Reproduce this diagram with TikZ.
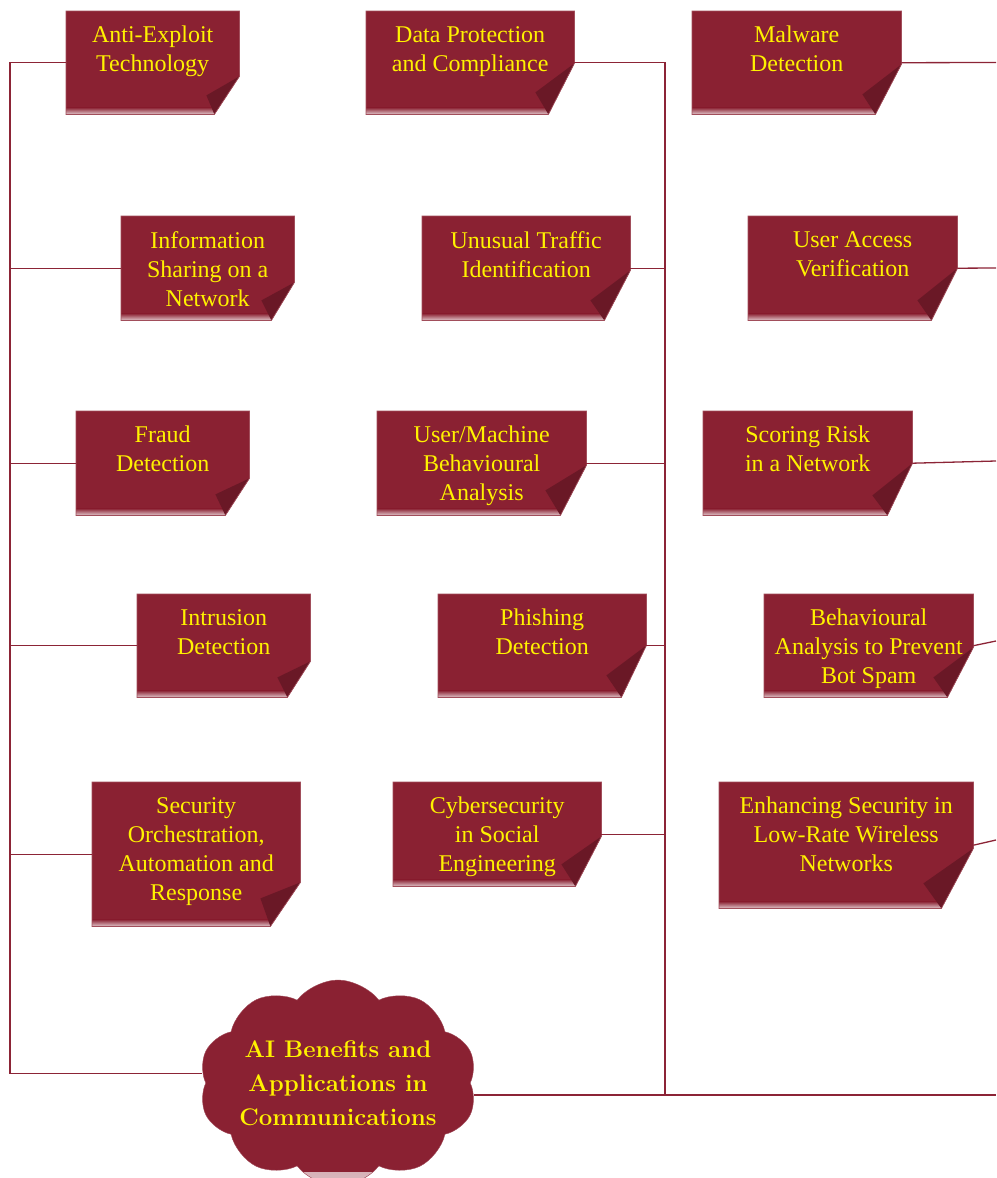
\documentclass[tikz,border=0pt]{standalone}
\usepackage{fontspec}
\setmainfont{Liberation Serif}
\newfontfamily\cloudfont{Latin Modern Roman}
\usetikzlibrary{positioning,calc,shapes.symbols,backgrounds}
\definecolor{notered}{RGB}{138,33,50}
\definecolor{foldred}{RGB}{106,24,38}
\definecolor{linkred}{RGB}{140,36,54}

\begin{document}
\begin{tikzpicture}[x=1pt,y=-1pt]
  \tikzset{
    note/.style 2 args={inner sep=0pt, text=yellow, font=\fontsize{24}{29}\selectfont,
      execute at begin node={\begin{minipage}[c][#2][t]{#1}\centering\vspace*{15pt}},
      execute at end node={\end{minipage}}},
    link/.style={draw=linkred, line width=1.3pt},
    idea/.style={cloud, cloud puffs=10, cloud puff arc=105, cloud ignores aspect,
      fill=notered, draw=notered!80!white, text=yellow, align=center,
      minimum width=278pt, minimum height=206pt, inner sep=-30pt,
      font=\cloudfont\bfseries\fontsize{24}{34}\selectfont,
      path picture={\shade[top color=notered, bottom color=notered!30!white]
        ([yshift=14pt]path picture bounding box.south west) rectangle (path picture bounding box.south east);}}
  }
  \useasboundingbox (0,0) rectangle (996,1178);
  \clip (0,0) rectangle (996,1178);
  % left column
  \node[note={173pt}{103pt}, anchor=north west] (ae) at (66,11) {Anti-Exploit\\Technology};
  \node[note={173pt}{104pt}, anchor=north west] (is) at (121,216) {Information\\Sharing on a\\Network};
  \node[note={173pt}{104pt}, anchor=north west] (fd) at (76,411) {Fraud\\Detection};
  \node[note={173pt}{103pt}, anchor=north west] (id) at (137,594) {Intrusion\\Detection};
  \node[note={208pt}{144pt}, anchor=north west] (so) at (92,782) {Security\\Orchestration,\\Automation and\\Response};
  % middle column
  \node[note={208pt}{103pt}, anchor=north west] (dp) at (366,11) {Data Protection\\and Compliance};
  \node[note={208pt}{104pt}, anchor=north west] (ut) at (422,216) {Unusual Traffic\\Identification};
  \node[note={209pt}{104pt}, anchor=north west] (um) at (377,411) {User/Machine\\Behavioural\\Analysis};
  \node[note={208pt}{103pt}, anchor=north west] (pd) at (438,594) {Phishing\\Detection};
  \node[note={208pt}{104pt}, anchor=north west] (cs) at (393,782) {Cybersecurity\\in Social\\Engineering};
  % right column
  \node[note={209pt}{103pt}, anchor=north west] (mw) at (692,11) {Malware\\Detection};
  \node[note={209pt}{104pt}, anchor=north west] (ua) at (748,216) {User Access\\Verification};
  \node[note={209pt}{104pt}, anchor=north west] (sr) at (703,411) {Scoring Risk\\in a Network};
  \node[note={209pt}{103pt}, anchor=north west] (ba) at (764,594) {Behavioural\\Analysis to Prevent\\Bot Spam};
  \node[note={254pt}{126pt}, anchor=north west] (es) at (719,782) {Enhancing Security in\\Low-Rate Wireless\\Networks};
  % centre
  \node[idea] (cloud) at (338,1083) {AI Benefits and\\Applications in\\Communications};

  % folded notes
  \begin{scope}[on background layer]
    \foreach \n/\cw/\ch/\fx/\fy in {ae/25/38/-33/-19, is/23/38/-33/-20, fd/24/37/-34/-21,
        id/23/36/-33/-20, so/30/44/-40/-28, dp/26/51/-39/-22, ut/26/50/-40/-20,
        um/26/50/-41/-25, pd/25/52/-40/-22, cs/26/50/-40/-22, mw/26/50/-39/-20,
        ua/26/52/-40/-20, sr/25/52/-40/-20, ba/26/50/-40/-20, es/32/60/-50/-25} {
      \fill[notered] (\n.north west) -- (\n.north east) -- ($(\n.south east)+(0,-\ch)$)
        -- ($(\n.south east)+(-\cw,0)$) -- (\n.south west) -- cycle;
      \shade[top color=notered, bottom color=notered!25!white] ($(\n.south west)+(0,-7)$)
        -- ($(\n.south east)+({-\cw+7*\cw/\ch},-7)$) -- ($(\n.south east)+(-\cw,0)$) -- (\n.south west) -- cycle;
      \fill[foldred] ($(\n.south east)+(0,-\ch)$) -- ($(\n.south east)+(\fx,\fy)$)
        -- ($(\n.south east)+(-\cw,0)$) -- cycle;
      \draw[notered!80!white, line width=0.7pt] (\n.north west) -- (\n.north east)
        -- ($(\n.south east)+(0,-\ch)$) -- ($(\n.south east)+(-\cw,0)$) -- (\n.south west) -- cycle;
    }
  \end{scope}

  % connectors
  \coordinate (lbus) at (10,0);
  \coordinate (mbus) at (665,0);
  \coordinate (rend) at (996,0);
  \foreach \n in {ae,is,fd,id,so}
    \draw[link] (\n.west) -- (\n.west -| lbus) |- (cloud.176);
  \foreach \n in {dp,ut,um,pd,cs}
    \draw[link] (\n.east) -- (\n.east -| mbus) |- (cloud.-5);
  \draw[link] (cloud.-5) -- (cloud.-5 -| rend);
  \foreach \n/\y in {mw/62.5,ua/268,sr/461,ba/641,es/840} {
    \coordinate (\n-out) at (996,\y);
    \draw[link] (\n.east) -- (\n-out);
  }
\end{tikzpicture}
\end{document}
